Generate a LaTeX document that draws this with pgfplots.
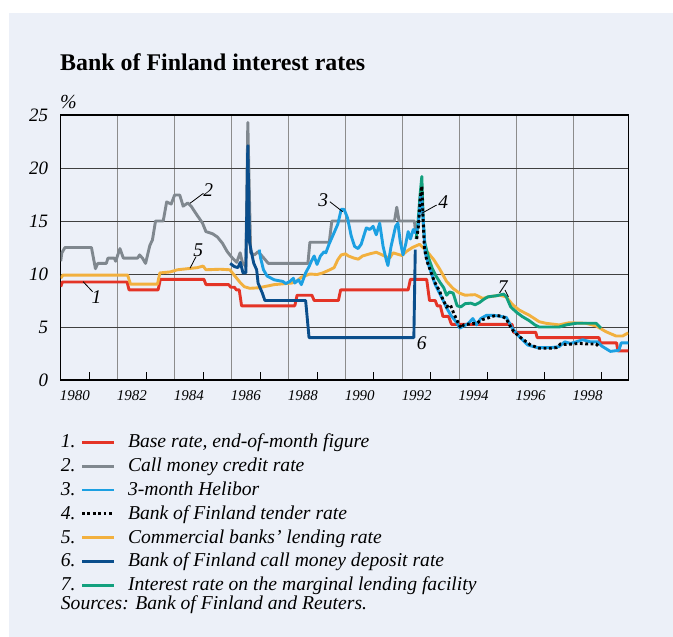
\documentclass[border=0pt]{standalone}
\usepackage{fontspec}
\setmainfont{Liberation Serif}
\usepackage{pgfplots}
\pgfplotsset{compat=1.18}
\definecolor{panel}{RGB}{236,240,248}
\definecolor{cred}{RGB}{228,52,38}
\definecolor{cgrey}{RGB}{128,136,143}
\definecolor{cblue}{RGB}{28,160,226}
\definecolor{corange}{RGB}{242,176,62}
\definecolor{cdark}{RGB}{10,78,140}
\definecolor{cgreen}{RGB}{18,160,126}
\newcommand\legfont{\fontsize{19.7}{23.9}\selectfont\itshape}
\newcommand\labfont{\fontsize{19.5}{20}\selectfont\itshape}
\pgfplotsset{
  ser/.style={line width=2.9bp, line join=round},
  numleg/.style={legend image code/.code={%
      \node[anchor=base east, inner sep=0pt, font=\legfont, text=black] at (-5bp,-4.75bp) {#1.};%
      \draw[##1] (0bp,0.5bp) -- (32bp,0.5bp);%
      \path (44.5bp,0.5bp);}},
}
\begin{document}
\begin{tikzpicture}
\useasboundingbox (0,0) rectangle (673bp,-637bp);
\fill[white] (0,0) rectangle (673bp,-637bp);
\fill[panel] (9bp,-13bp) rectangle (673bp,-637bp);
\node[anchor=base west, inner sep=0pt, font=\fontsize{24}{24}\selectfont\bfseries] at (60bp,-70.7bp) {Bank of Finland interest rates};
\node[anchor=base west, inner sep=0pt, font=\fontsize{20}{20}\selectfont\itshape] at (60bp,-108bp) {\%};
\begin{axis}[
  at={(60.7bp,-380bp)}, anchor=south west,
  scale only axis, width=567.6bp, height=265bp,
  xmin=1980, xmax=1999.93, ymin=0, ymax=25,
  xtick={1980,1982,1984,1986,1988,1990,1992,1994,1996,1998},
  xticklabels={1980,1982,1984,1986,1988,1990,1992,1994,1996,1998},
  minor xtick={1981,1983,1985,1987,1989,1991,1993,1995,1997,1999},
  ytick={0,5,10,15,20,25},
  xtick pos=bottom, ytick pos=left, tick align=inside,
  major tick length=0pt, minor tick length=8bp,
  every minor tick/.style={black, line width=1bp},
  xmajorgrids, ymajorgrids,
  every axis x grid/.append style={color=black!45, line width=1.3bp},
  every axis y grid/.append style={color=black!75, line width=0.8bp},
  axis line style={black, line width=1.2bp},
  /pgf/number format/assume math mode=true,
  xticklabel style={font=\fontsize{15}{15}\selectfont\itshape, inner sep=0pt, anchor=north, yshift=-10bp, xshift=14.24bp},
  yticklabel style={font=\fontsize{19}{19}\selectfont\itshape, inner sep=0pt, anchor=east, xshift=-12.4bp},
  legend cell align=left,
  legend style={at={(0,-0.2011)}, anchor=north west, draw=none, fill=none, inner sep=0pt,
    font=\legfont, row sep=5.4bp,
    nodes={inner sep=0pt, text height=14bp, text depth=4.5bp}},
]
% 2 call money credit rate
\addplot[ser, cgrey, forget plot] coordinates {
(1980.00,11.2) (1980.04,12.0) (1980.15,12.5) (1981.08,12.5) (1981.22,10.5) (1981.30,11.0)
(1981.60,11.0) (1981.66,11.5) (1981.88,11.5) (1981.93,11.2) (1982.08,12.4) (1982.20,11.5)
(1982.70,11.5) (1982.77,11.8) (1982.87,11.5) (1982.98,11.0) (1983.13,12.7) (1983.22,13.2)
(1983.33,15.0) (1983.60,15.0) (1983.72,16.8) (1983.88,16.6) (1984.00,17.45) (1984.18,17.45)
(1984.30,16.4) (1984.46,16.7) (1984.58,16.4) (1984.75,15.7) (1984.98,14.8) (1985.10,14.0)
(1985.33,13.8) (1985.50,13.5) (1985.68,12.9) (1985.85,12.1) (1986.03,11.5) (1986.18,11.1)
(1986.30,12.0) (1986.38,11.1) (1986.50,10.7) (1986.57,24.3) (1986.67,12.0) (1986.80,11.8)
(1986.93,12.1) (1987.10,11.6) (1987.29,11.0) (1988.68,11.0) (1988.75,13.0) (1989.43,13.0)
(1989.52,15.0) (1991.72,15.0) (1991.80,16.3) (1991.88,15.0) (1992.42,15.0) (1992.45,14.2)
};
% 1 base rate
\addplot[ser, cred, forget plot] coordinates {
(1980.00,8.8) (1980.06,9.25) (1982.33,9.25) (1982.40,8.5) (1983.42,8.5) (1983.50,9.5)
(1985.03,9.5) (1985.10,9.0) (1985.90,9.0) (1985.97,8.75) (1986.10,8.75) (1986.17,8.5)
(1986.27,8.5) (1986.35,7.0) (1988.22,7.0) (1988.30,8.0) (1988.82,8.0) (1988.90,7.5)
(1989.75,7.5) (1989.83,8.5) (1992.20,8.5) (1992.28,9.5) (1992.85,9.5) (1992.95,7.5)
(1993.15,7.5) (1993.22,7.0) (1993.33,7.0) (1993.42,6.0) (1993.62,6.0) (1993.72,5.25)
(1995.85,5.25) (1995.90,4.5) (1996.68,4.5) (1996.73,4.0) (1998.90,4.0) (1998.95,3.5)
(1999.52,3.5) (1999.56,2.75) (1999.93,2.75)
};
% 5 commercial banks' lending rate
\addplot[ser, corange, forget plot] coordinates {
(1980.00,9.6) (1980.08,9.9) (1982.35,9.9) (1982.45,9.05) (1983.40,9.05) (1983.48,10.1)
(1983.85,10.2) (1984.10,10.4) (1984.45,10.5) (1984.80,10.6) (1985.00,10.75) (1985.10,10.4)
(1985.60,10.45) (1985.94,10.4) (1986.06,10.0) (1986.18,9.6) (1986.30,9.2) (1986.45,8.8)
(1986.64,8.65) (1986.95,8.7) (1987.50,9.0) (1988.12,9.15) (1988.30,9.35) (1988.45,9.7)
(1988.60,9.85) (1988.75,10.0) (1989.00,9.95) (1989.20,10.1) (1989.45,10.4) (1989.60,10.6)
(1989.73,11.35) (1989.85,11.8) (1990.00,11.9) (1990.10,11.7) (1990.30,11.5) (1990.45,11.4)
(1990.60,11.7) (1990.85,11.9) (1991.08,12.05) (1991.25,11.85) (1991.45,11.6) (1991.55,11.5)
(1991.67,12.0) (1991.85,11.85) (1991.98,11.75) (1992.15,12.15) (1992.35,12.5) (1992.60,12.8)
(1992.72,12.5) (1992.90,12.0) (1993.10,11.35) (1993.30,10.5) (1993.55,9.3) (1993.77,8.65)
(1994.00,8.2) (1994.20,8.0) (1994.55,8.05) (1994.82,7.7) (1995.05,7.85) (1995.40,8.0)
(1995.64,7.85) (1995.87,7.1) (1996.10,6.6) (1996.46,6.1) (1996.80,5.5) (1997.04,5.35)
(1997.50,5.2) (1997.85,5.4) (1998.44,5.35) (1998.80,5.1) (1999.15,4.55) (1999.50,4.15)
(1999.73,4.15) (1999.93,4.45)
};
% 6 call money deposit rate
\addplot[ser, cdark, forget plot] coordinates {
(1985.95,11.0) (1986.10,10.7) (1986.22,10.6) (1986.31,11.1) (1986.40,10.1) (1986.50,10.1)
(1986.57,22.1) (1986.63,13.0) (1986.70,12.0) (1986.78,11.0) (1986.88,10.4) (1986.93,9.15)
(1987.00,8.7) (1987.08,8.2) (1987.17,7.5) (1988.60,7.5) (1988.72,4.0) (1992.40,4.0)
(1992.45,12.3)
};
% 7 marginal lending facility
\addplot[ser, cgreen, forget plot] coordinates {
(1992.48,13.3) (1992.55,15.0) (1992.62,17.5) (1992.68,19.2) (1992.73,15.0) (1992.78,13.0)
(1992.92,11.5) (1993.05,10.5) (1993.18,9.8) (1993.32,9.2) (1993.45,8.7) (1993.55,8.0)
(1993.65,8.3) (1993.78,8.2) (1993.92,7.0) (1994.05,6.9) (1994.20,7.2) (1994.40,7.25)
(1994.55,7.1) (1994.70,7.3) (1994.85,7.6) (1995.00,7.85) (1995.30,7.95) (1995.55,8.1)
(1995.64,7.9) (1995.80,6.9) (1996.00,6.4) (1996.20,6.0) (1996.45,5.6) (1996.65,5.2)
(1996.80,5.0) (1997.50,5.0) (1997.75,5.2) (1998.10,5.35) (1998.80,5.35) (1998.97,4.9)
};
% 3 3-month Helibor
\addplot[ser, cblue, forget plot] coordinates {
(1986.97,12.3) (1987.02,11.5) (1987.12,10.4) (1987.25,9.8) (1987.50,9.45) (1987.80,9.3)
(1987.90,9.1) (1988.05,9.3) (1988.17,9.6) (1988.22,9.15) (1988.35,9.45) (1988.45,9.0)
(1988.60,10.1) (1988.72,10.7) (1988.80,11.2) (1988.90,11.7) (1989.00,10.9) (1989.12,11.7)
(1989.25,12.1) (1989.31,12.0) (1989.42,12.8) (1989.60,13.9) (1989.73,14.7) (1989.85,16.1)
(1989.95,16.1) (1990.07,15.3) (1990.20,13.6) (1990.32,12.6) (1990.44,12.4) (1990.55,12.8)
(1990.73,14.35) (1990.85,14.2) (1990.97,14.5) (1991.08,13.7) (1991.20,14.8) (1991.32,12.6)
(1991.43,11.35) (1991.49,10.8) (1991.60,12.6) (1991.76,14.5) (1991.84,14.8) (1991.92,13.1)
(1992.02,11.8) (1992.12,12.9) (1992.20,14.0) (1992.28,13.3) (1992.38,14.2) (1992.45,13.9)
(1992.55,14.5) (1992.65,17.5) (1992.72,15.5) (1992.80,12.0) (1992.90,11.0) (1993.00,10.2)
(1993.15,9.0) (1993.30,8.2) (1993.45,7.4) (1993.55,6.8) (1993.70,6.1) (1993.88,5.5)
(1994.02,4.9) (1994.15,5.1) (1994.30,5.3) (1994.47,5.8) (1994.60,5.2) (1994.75,5.8)
(1994.95,6.1) (1995.20,6.1) (1995.45,6.0) (1995.65,5.9) (1995.85,4.9) (1996.10,4.1)
(1996.40,3.3) (1996.75,3.05) (1997.20,3.05) (1997.50,3.15) (1997.70,3.6) (1997.90,3.45)
(1998.10,3.6) (1998.33,3.8) (1998.60,3.6) (1998.85,3.6) (1999.00,3.2) (1999.30,2.7)
(1999.60,2.8) (1999.68,3.5) (1999.93,3.5)
};
% 4 Bank of Finland tender rate
\addplot[line width=2.9bp, black, dash pattern=on 2.8bp off 2.6bp, forget plot] coordinates {
(1992.50,13.3) (1992.56,14.5) (1992.62,17.0) (1992.68,18.3) (1992.72,15.5) (1992.77,12.5)
(1992.85,11.3) (1992.97,10.4) (1993.12,9.3) (1993.30,8.4) (1993.42,7.6) (1993.55,6.9)
(1993.68,7.1) (1993.80,6.3) (1993.92,5.6) (1994.05,4.9) (1994.15,5.2) (1994.40,5.3)
(1994.60,5.35) (1994.80,5.7) (1994.95,5.8) (1995.15,6.0) (1995.30,6.1) (1995.50,6.0)
(1995.64,5.8) (1995.80,5.0) (1995.90,4.6) (1996.10,4.1) (1996.25,3.8) (1996.50,3.3)
(1996.80,3.0) (1997.20,3.0) (1997.40,3.05) (1997.55,3.4) (1997.75,3.35) (1998.00,3.4)
(1998.20,3.45) (1998.50,3.4) (1998.80,3.4) (1998.90,3.15)
};
% legend
\addlegendimage{line width=2.9bp, cred, numleg=1}
\addlegendentry{Base rate, end-of-month figure}
\addlegendimage{line width=2.9bp, cgrey, numleg=2}
\addlegendentry{Call money credit rate}
\addlegendimage{line width=2.9bp, cblue, numleg=3}
\addlegendentry{3-month Helibor}
\addlegendimage{line width=2.9bp, black, dash pattern=on 2.8bp off 2.6bp, numleg=4}
\addlegendentry{Bank of Finland tender rate}
\addlegendimage{line width=2.9bp, corange, numleg=5}
\addlegendentry{Commercial banks’ lending rate}
\addlegendimage{line width=2.9bp, cdark, numleg=6}
\addlegendentry{Bank of Finland call money deposit rate}
\addlegendimage{line width=2.9bp, cgreen, numleg=7}
\addlegendentry{Interest rate on the marginal lending facility}
% series numbers
\draw[black, line width=0.8bp] (axis cs:1980.79,9.27) -- (axis cs:1981.12,8.33);
\node[font=\labfont, inner sep=0pt] at (axis cs:1981.26,7.86) {1};
\draw[black, line width=0.8bp] (axis cs:1984.54,16.67) -- (axis cs:1985.01,17.61);
\node[font=\labfont, inner sep=0pt] at (axis cs:1985.18,17.92) {2};
\draw[black, line width=0.8bp] (axis cs:1989.45,16.82) -- (axis cs:1989.9,15.88);
\node[font=\labfont, inner sep=0pt] at (axis cs:1989.22,16.98) {3};
\draw[black, line width=0.8bp] (axis cs:1993.2,16.51) -- (axis cs:1992.68,15.73);
\node[font=\labfont, inner sep=0pt] at (axis cs:1993.43,16.82) {4};
\draw[black, line width=0.8bp] (axis cs:1984.54,10.54) -- (axis cs:1984.75,11.63);
\node[font=\labfont, inner sep=0pt] at (axis cs:1984.83,12.26) {5};
\node[font=\labfont, inner sep=0pt] at (axis cs:1992.68,3.46) {6};
\draw[black, line width=0.8bp] (axis cs:1995.6,8.49) -- (axis cs:1995.72,7.86);
\node[font=\labfont, inner sep=0pt] at (axis cs:1995.52,8.8) {7};
\end{axis}
\node[anchor=base west, inner sep=0pt, font=\legfont] at (60.7bp,-609.3bp) {Sources: Bank of Finland and Reuters.};
\end{tikzpicture}
\end{document}
